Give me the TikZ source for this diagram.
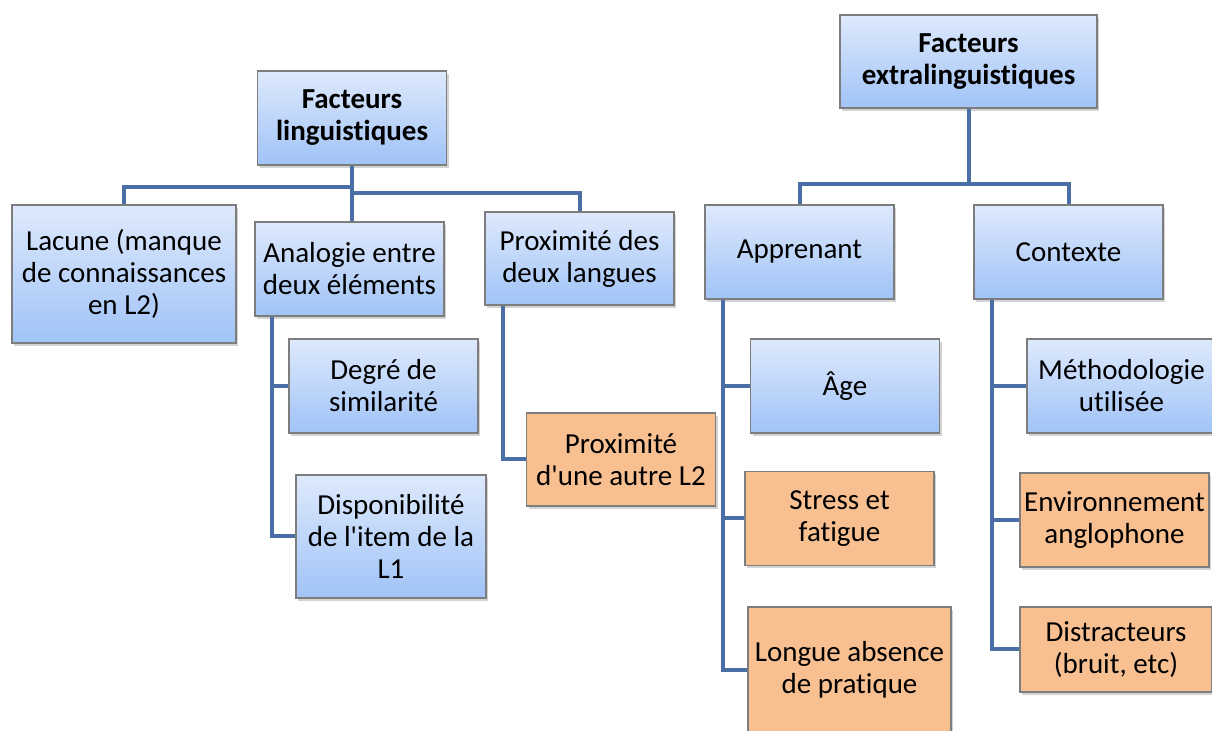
\documentclass[tikz,border=0pt]{standalone}
\usepackage{fontspec}
\setmainfont{Carlito}[Ligatures={TeX,NoCommon}]
\usepackage{tikz}
\usetikzlibrary{shadows}

\definecolor{linkblue}{RGB}{74,111,165}
\definecolor{boxtop}{RGB}{222,233,252}
\definecolor{boxbot}{RGB}{160,195,247}
\definecolor{boxorange}{RGB}{248,192,144}
\definecolor{boxline}{RGB}{125,125,125}

\begin{document}
\begin{tikzpicture}[
  x=0.5pt, y=-0.5pt,
  every node/.style={font=\fontsize{14.5}{16}\selectfont, align=center, inner sep=1pt},
  blbox/.style={rectangle, draw=boxline, line width=0.6pt, top color=boxtop, bottom color=boxbot,
    minimum width=94.5pt, minimum height=47pt,
    drop shadow={shadow xshift=1.2pt, shadow yshift=-1.5pt, opacity=0.35}},
  orbox/.style={blbox, top color=boxorange, bottom color=boxorange},
  hdbox/.style={blbox, font=\fontsize{14.5}{16}\selectfont\bfseries},
  link/.style={draw=linkblue, line width=2pt}
]
\useasboundingbox (0,0) rectangle (1212,731);

% linguistic factors
\node[hdbox] (fl) at (352,118) {Facteurs\\linguistiques};
\node[blbox, minimum width=112pt, minimum height=69pt] (lac) at (124,274) {Lacune (manque\\de connaissances\\en L2)};
\node[blbox] (ana) at (349.5,269) {Analogie entre\\deux éléments};
\node[blbox, minimum height=46.5pt] (pdl) at (579.5,258.5) {Proximité des\\deux langues};
\node[orbox, minimum height=46.5pt] (pal) at (621,459.5) {Proximité\\d\textquotesingle une autre L2};
\node[blbox] (deg) at (383.5,386) {Degré de\\similarité};
\node[blbox, minimum width=95pt, minimum height=61.5pt] (dis) at (391,536.5) {Disponibilité\\de l\textquotesingle item de la\\L1};

% extralinguistic factors
\node[hdbox, minimum width=128.5pt, minimum height=46.5pt] (fe) at (968.5,61.5) {Facteurs\\extralinguistiques};
\node[blbox] (app) at (799.5,252) {Apprenant};
\node[blbox] (ctx) at (1068.5,252) {Contexte};
\node[blbox] (age) at (845,386) {Âge};
\node[orbox] (str) at (839.5,518.5) {Stress et\\fatigue};
\node[orbox, minimum width=101.5pt, minimum height=63pt] (lon) at (849.5,670) {Longue absence\\de pratique};
\node[blbox] (met) at (1121.5,386) {Méthodologie\\utilisée};
\node[orbox] (env) at (1114.5,520) {Environnement\\anglophone};
\node[orbox, minimum width=96pt, minimum height=42.5pt] (dst) at (1116,649.5) {Distracteurs\\(bruit, etc)};

% connectors
\draw[link] (fl.south) -- ++(0,21) -| (lac.north);
\draw[link] (fl.south) -- ++(0,27) -| (pdl.north);
\draw[link] (fl.south) -- (ana.north -| fl.south);
\draw[link] ([xshift=9pt]ana.south west) |- (deg.west);
\draw[link] ([xshift=9pt]ana.south west) |- (dis.west);
\draw[link] ([xshift=9.5pt]pdl.south west) |- (pal.west);

\draw[link] (fe.south) -- ++(0,75) -| (app.north);
\draw[link] (fe.south) -- ++(0,75) -| (ctx.north);
\draw[link] ([xshift=9.5pt]app.south west) |- (age.west);
\draw[link] ([xshift=9.5pt]app.south west) |- (str.west);
\draw[link] ([xshift=9.5pt]app.south west) |- (lon.west);
\draw[link] ([xshift=9.5pt]ctx.south west) |- (met.west);
\draw[link] ([xshift=9.5pt]ctx.south west) |- (env.west);
\draw[link] ([xshift=9.5pt]ctx.south west) |- (dst.west);
\end{tikzpicture}
\end{document}
